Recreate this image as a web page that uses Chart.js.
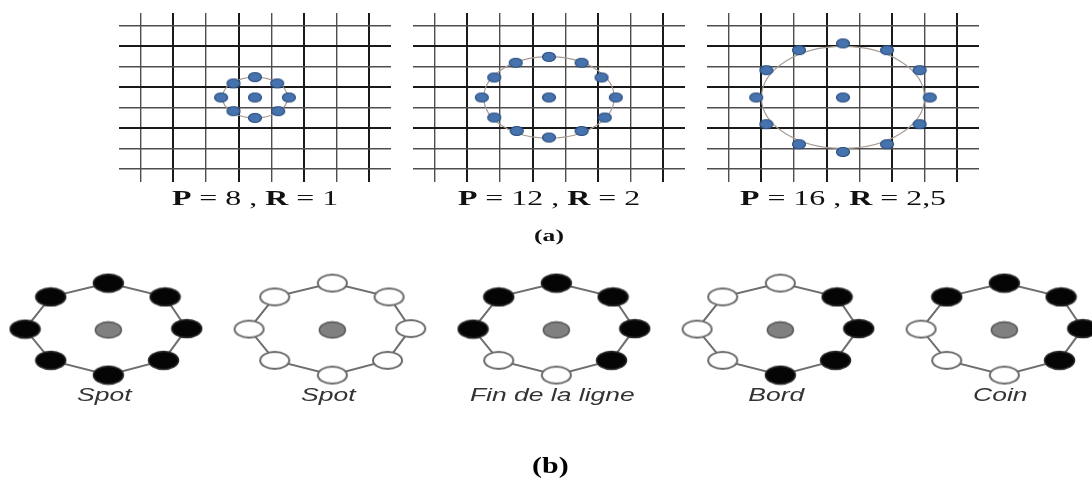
<!DOCTYPE html>
<html lang="fr">
<head>
<meta charset="utf-8">
<title>Motifs LBP</title>
<script src="https://cdn.jsdelivr.net/npm/chart.js@4.4.1/dist/chart.umd.min.js"></script>
<style>
html, body { margin: 0; padding: 0; background: #fff; }
#fig { position: relative; width: 1092px; height: 483px; overflow: hidden; background: #fff; }
#fig canvas { position: absolute; }
</style>
</head>
<body>
<div id="fig">
  <canvas id="g1" width="272" height="250" style="left:119px;top:0"></canvas>
  <canvas id="g2" width="272" height="250" style="left:413px;top:0"></canvas>
  <canvas id="g3" width="272" height="250" style="left:707px;top:0"></canvas>
  <canvas id="rings" width="1092" height="233" style="left:0;top:250px"></canvas>
</div>
<script>
// ---------- DONNÉES ----------
// (a) voisinages circulaires : P points, rayon R (en pixels de la grille)
const voisinsP = [8, 12, 16];
const rayonsR = [1, 2, 2.5];
const lignesGrille = [-3.5, -2.5, -1.5, -0.5, 0.5, 1.5, 2.5, 3.5];

// points (unités de grille, y vers le haut), en partant du haut, sens horaire
const pts8X = [0, 0.68, 1.04, 0.71, 0, -0.66, -1.04, -0.66];
const pts8Y = [1.0, 0.69, 0, -0.67, -1.0, -0.67, 0, 0.69];
const pts12X = [0, 1.0, 1.61, 2.05, 1.71, 1.0, 0, -0.99, -1.68, -2.06, -1.68, -1.02];
const pts12Y = [1.99, 1.70, 0.98, 0, -0.98, -1.64, -1.96, -1.64, -0.98, 0, 0.98, 1.70];
const pts16X = [0, 1.35, 2.35, 2.66, 2.35, 1.35, 0, -1.35, -2.35, -2.66, -2.35, -1.35];
const pts16Y = [2.65, 2.32, 1.34, 0, -1.31, -2.29, -2.67, -2.29, -1.31, 0, 1.34, 2.32];

// (b) motifs : haut, haut-droite, droite, bas-droite, bas, bas-gauche, gauche, haut-gauche
const motifNoms = ['Spot', 'Spot', 'Fin de la ligne', 'Bord', 'Coin'];
const motifBits = [
    [1, 1, 1, 1, 1, 1, 1, 1],
    [0, 0, 0, 0, 0, 0, 0, 0],
    [1, 1, 1, 1, 0, 0, 1, 1],
    [0, 1, 1, 1, 1, 0, 0, 0],
    [1, 1, 1, 1, 0, 0, 0, 1]
];
const anneauX = [0, 0.71, 0.98, 0.69, 0, -0.72, -1.04, -0.72];
const anneauY = [1.02, 0.72, 0.03, -0.66, -0.98, -0.66, 0.02, 0.72];

const ECART = 2.8; // distance entre deux anneaux (en rayons)

// ---------- OUTILS ----------
function ellipse(w, h, fond, trait, ep) {
    const c = document.createElement('canvas');
    c.width = Math.ceil(w + ep * 2);
    c.height = Math.ceil(h + ep * 2);
    const ctx = c.getContext('2d');
    ctx.beginPath();
    ctx.ellipse(c.width / 2, c.height / 2, w / 2, h / 2, 0, 0, Math.PI * 2);
    ctx.fillStyle = fond;
    ctx.fill();
    ctx.lineWidth = ep;
    ctx.strokeStyle = trait;
    ctx.stroke();
    return c;
}

const pointBleu = ellipse(13, 9, '#4673ad', '#2c4f80', 1.2);
const pointNoir = ellipse(30, 18, '#050505', '#2a2a2a', 1.5);
const pointBlanc = ellipse(29, 17, '#ffffff', '#6a6a6a', 2);
const pointGris = ellipse(26, 16, '#808080', '#555555', 1.5);

// texte étiré horizontalement (la figure d'origine est déformée)
function texteEtire(ctx, morceaux, cx, cy, etirement, couleur) {
    ctx.save();
    ctx.translate(cx, cy);
    ctx.scale(etirement, 1);
    ctx.textBaseline = 'middle';
    ctx.textAlign = 'left';
    ctx.fillStyle = couleur;
    let total = 0;
    morceaux.forEach(m => { ctx.font = m[1]; total += ctx.measureText(m[0]).width; });
    let x = -total / 2;
    morceaux.forEach(m => {
        ctx.font = m[1];
        ctx.fillText(m[0], x, 0);
        x += ctx.measureText(m[0]).width;
    });
    ctx.restore();
}

const SERIF = '"Liberation Serif", "Times New Roman", serif';
const SANS = '"Liberation Sans", Arial, sans-serif';

// ---------- (a) GRILLES ----------
function axeGrille(lim, epaisse) {
    return {
        type: 'linear',
        min: -lim,
        max: lim,
        afterBuildTicks: axis => { axis.ticks = lignesGrille.map(v => ({ value: v })); },
        ticks: { display: false },
        border: { display: false },
        grid: {
            drawTicks: false,
            color: c => epaisse(c.tick.value) ? '#1a1a1a' : '#4e4e4e',
            lineWidth: c => epaisse(c.tick.value) ? 2 : 1.4
        }
    };
}

function initGrille(id, k, ptsX, ptsY, avecA) {
    const donnees = ptsX.map((x, i) => ({ x: x, y: ptsY[i] }));
    donnees.push({ x: 0, y: 0 }); // pixel central

    const cercle = {
        id: 'cercle',
        beforeDatasetsDraw(chart) {
            const sx = chart.scales.x, sy = chart.scales.y;
            const cx = sx.getPixelForValue(0), cy = sy.getPixelForValue(0);
            const ctx = chart.ctx;
            ctx.save();
            ctx.beginPath();
            ctx.ellipse(cx, cy, sx.getPixelForValue(rayonsR[k]) - cx, cy - sy.getPixelForValue(rayonsR[k]), 0, 0, Math.PI * 2);
            ctx.strokeStyle = '#a89c94';
            ctx.lineWidth = 1.2;
            ctx.stroke();
            ctx.restore();
        },
        afterDraw(chart) {
            const a = chart.chartArea;
            const cx = chart.scales.x.getPixelForValue(0);
            const rTxt = String(rayonsR[k]).replace('.', ',');
            texteEtire(chart.ctx, [
                ['P', 'bold 22px ' + SERIF],
                [' = ' + voisinsP[k] + ' , ', '22px ' + SERIF],
                ['R', 'bold 22px ' + SERIF],
                [' = ' + rTxt, '22px ' + SERIF]
            ], cx, a.bottom + 17, 1.45, '#111');
            if (avecA) {
                texteEtire(chart.ctx, [['(a)', 'bold 16px ' + SERIF]], cx, 237, 1.6, '#111');
            }
        }
    };

    return new Chart(document.getElementById(id), {
        type: 'scatter',
        data: {
            datasets: [{
                data: donnees,
                pointStyle: pointBleu,
                pointRadius: 6
            }]
        },
        options: {
            responsive: false,
            animation: false,
            events: [],
            layout: { autoPadding: false, padding: { top: 13, bottom: 68, left: 0, right: 0 } },
            plugins: { legend: { display: false }, tooltip: { enabled: false } },
            scales: {
                x: axeGrille(4.17, v => Math.round(v + 3.5) % 2 === 1),
                y: axeGrille(4.14, v => [1, 3, 5].includes(Math.round(3.5 - v)))
            }
        },
        plugins: [cercle]
    });
}

// ---------- (b) MOTIFS ----------
function initMotifs() {
    const datasets = [];
    motifBits.forEach((bits, i) => {
        const cx = i * ECART;
        const voisins = anneauX.map((x, j) => ({ x: cx + x, y: anneauY[j] }));
        datasets.push({
            data: voisins,
            pointStyle: c => bits[c.dataIndex] ? pointNoir : pointBlanc,
            pointRadius: 10,
            order: 1
        });
        datasets.push({
            data: voisins.concat([voisins[0]]),
            showLine: true,
            borderColor: '#6e6e6e',
            borderWidth: 2,
            pointRadius: 0,
            tension: 0,
            order: 2
        });
    });
    datasets.push({
        data: motifBits.map((b, i) => ({ x: i * ECART, y: 0 })),
        pointStyle: pointGris,
        pointRadius: 10,
        order: 1
    });

    const legendes = {
        id: 'legendes',
        afterDraw(chart) {
            const sx = chart.scales.x, sy = chart.scales.y;
            motifNoms.forEach((nom, i) => {
                texteEtire(chart.ctx, [[nom, 'italic 18px ' + SANS]],
                    sx.getPixelForValue(i * ECART - 0.05), sy.getPixelForValue(-1.43), 1.47, '#333');
            });
            texteEtire(chart.ctx, [['(b)', 'bold 23px ' + SERIF]],
                sx.getPixelForValue(2 * ECART) - 6, sy.getPixelForValue(-2.98), 1.3, '#000');
        }
    };

    new Chart(document.getElementById('rings'), {
        type: 'scatter',
        data: { datasets: datasets },
        options: {
            responsive: false,
            animation: false,
            events: [],
            layout: { autoPadding: false, padding: 0 },
            plugins: { legend: { display: false }, tooltip: { enabled: false } },
            scales: {
                x: { type: 'linear', display: false, min: -1.354, max: 12.296 },
                y: { type: 'linear', display: false, min: -3.326, max: 1.739 }
            }
        },
        plugins: [legendes]
    });
}

// ---------- INITIALISER TOUT ----------
initGrille('g1', 0, pts8X, pts8Y, false);
initGrille('g2', 1, pts12X, pts12Y, true);
initGrille('g3', 2, pts16X, pts16Y, false);
initMotifs();
</script>
</body>
</html>
